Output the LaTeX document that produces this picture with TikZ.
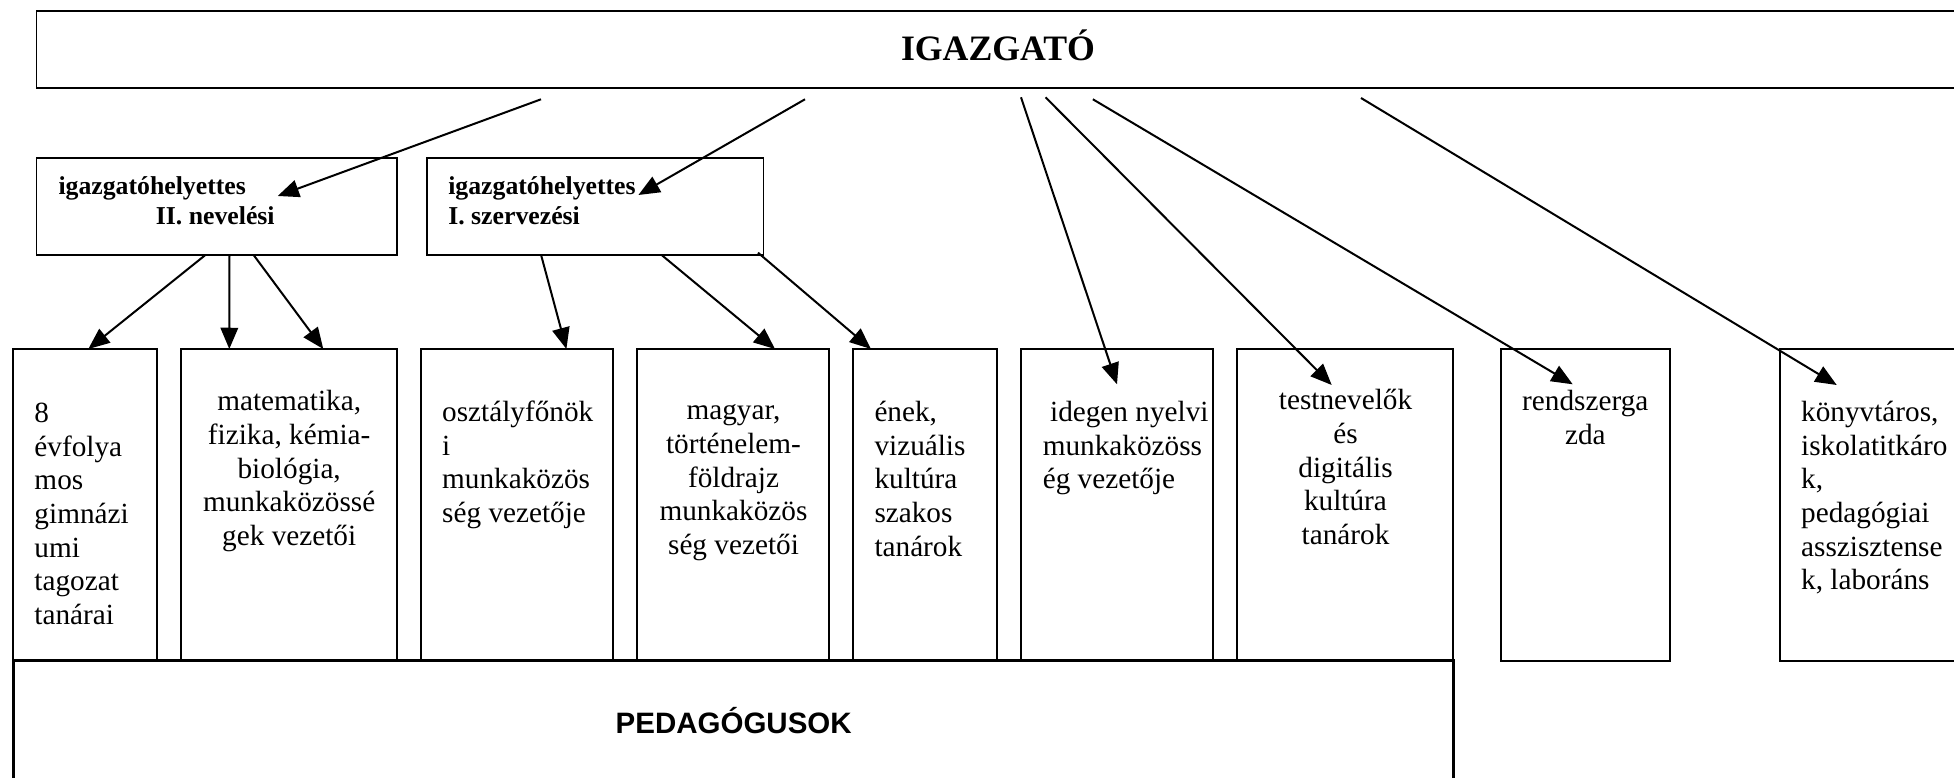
\documentclass[tikz,border=0pt]{standalone}
\usepackage{fontspec}
\setmainfont{Liberation Serif}
\newfontfamily\pedfont{Liberation Sans}
\usetikzlibrary{arrows.meta,fit}
\newcommand\mylines[2]{\begin{tabular}[t]{@{}#1@{}}#2\end{tabular}}
\begin{document}
\begin{tikzpicture}[x=0.4pt,y=-0.4pt,
  box/.style={draw, line width=0.7pt, inner sep=0pt, outer sep=0pt, rectangle},
  body/.style={inner sep=0pt, font=\fontsize{11.7pt}{13.45pt}\selectfont},
  head/.style={inner sep=0pt, anchor=base west, font=\bfseries\fontsize{10.3pt}{12.4pt}\selectfont},
  arr/.style={line width=0.8pt, -{Triangle[length=8.5pt,width=7pt]}}]
\useasboundingbox (0,0) rectangle (1954,778);
\clip (0,0) rectangle (1954,778);

% boxes
\node[box, fit={(36.6,11) (2000,88.3)}] (dir) {};
\node[box, fit={(36.6,158.3) (397.3,255)}] (vII) {};
\node[box, fit={(427,158.3) (763.4,255)}] (vI) {};
\node[box, fit={(13.3,349) (157.3,660.7)}] (b1) {};
\node[box, fit={(181,349) (397.3,660.7)}] (b2) {};
\node[box, fit={(421,349) (613.3,660.7)}] (b3) {};
\node[box, fit={(636.7,349) (829.3,660.7)}] (b4) {};
\node[box, fit={(853.3,349) (997.3,660.7)}] (b5) {};
\node[box, fit={(1021,349) (1213.3,660.7)}] (b6) {};
\node[box, fit={(1237.3,349) (1453.3,660.7)}] (b7) {};
\node[box, fit={(1501,349) (1670,660.7)}] (b8) {};
\node[box, fit={(1780,349) (2000,660.7)}] (b9) {};
\node[box, line width=1pt, fit={(13.3,660.7) (1453.3,800)}] (ped) {};

% texts
\node[inner sep=0pt, anchor=base, font=\bfseries\fontsize{14.3pt}{16pt}\selectfont] (dirt) at (998,61) {IGAZGATÓ};
\node[head] (vIIa) at (58,194.3) {igazgatóhelyettes};
\node[head] (vIIb) at (155.4,225) {II. nevelési};
\node[head] (vIa) at (447.8,194.3) {igazgatóhelyettes};
\node[head] (vIb) at (447.8,225) {I. szervezési};

\node[body, anchor=base west] (t1) at (34,422.7) {\mylines{l}{8\\évfolya\\mos\\gimnázi\\umi\\tagozat\\tanárai}};
\node[body, anchor=base] (t2) at (289.2,411) {\mylines{c}{matematika,\\fizika, kémia-\\biológia,\\munkaközössé\\gek vezetői}};
\node[body, anchor=base west] (t3) at (441.7,421.7) {\mylines{l}{osztályfőnök\\i\\munkaközös\\ség vezetője}};
\node[body, anchor=base] (t4) at (733.5,420) {\mylines{c}{magyar,\\történelem-\\földrajz\\munkaközös\\ség vezetői}};
\node[body, anchor=base west] (t5) at (874,421.7) {\mylines{l}{ének,\\vizuális\\kultúra\\szakos\\tanárok}};
\node[body, anchor=base west] (t6) at (1042.3,421.7) {\mylines{l}{\hspace*{0.25em}idegen nyelvi\\munkaközöss\\ég vezetője}};
\node[body, anchor=base] (t7) at (1345.5,410) {\mylines{c}{testnevelők\\és\\digitális\\kultúra\\tanárok}};
\node[body, anchor=base] (t8) at (1585.3,410.7) {\mylines{c}{rendszerga\\zda}};
\node[body, anchor=base west] (t9) at (1800.7,421.7) {\mylines{l}{könyvtáros,\\iskolatitkáro\\k,\\pedagógiai\\asszisztense\\k, laboráns}};
\node[inner sep=0pt, anchor=base, font=\pedfont\bfseries\fontsize{11.8pt}{13pt}\selectfont] (pedt) at (733.7,733.3) {PEDAGÓGUSOK};

% connector end points
\coordinate (s1) at (541,99.3);    \coordinate (e1) at (277.7,196);
\coordinate (s2) at (805,99.3);    \coordinate (e2) at (638.4,195);
\coordinate (s3) at (1021,97.3);   \coordinate (e3) at (1117,384.3);
\coordinate (s4) at (1045.5,97.3); \coordinate (e4) at (1331.7,385);
\coordinate (s5) at (1092.9,99.3); \coordinate (e5) at (1572.7,384.3);
\coordinate (s6) at (1361,98);     \coordinate (e6) at (1836.7,385);
\coordinate (a1) at (205.4,255);   \coordinate (f1) at (88.3,349);
\coordinate (a2) at (229.5,255);   \coordinate (f2) at (229.3,349);
\coordinate (a3) at (253.6,255);   \coordinate (f3) at (323.3,349);
\coordinate (a4) at (541.1,255);   \coordinate (f4) at (566.4,349);
\coordinate (a5) at (661.6,255);   \coordinate (f5) at (775,349);
\coordinate (a6) at (758,252.7);   \coordinate (f6) at (871,349);

% connectors
\foreach \i in {1,...,6} {
  \draw[arr] (s\i) -- (e\i);
  \draw[arr] (a\i) -- (f\i);
}
\end{tikzpicture}
\end{document}
